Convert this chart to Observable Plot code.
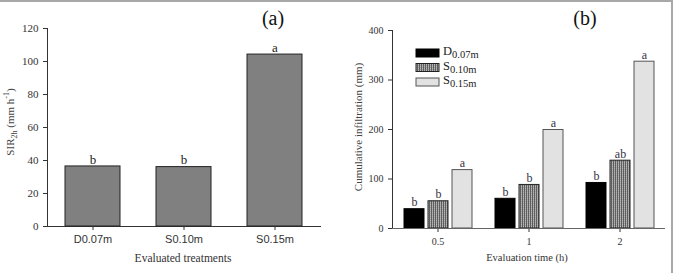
<!DOCTYPE html>
<html><head><meta charset="utf-8">
<script src="https://cdn.jsdelivr.net/npm/d3@7"></script>
<script src="https://cdn.jsdelivr.net/npm/@observablehq/plot@0.6"></script>
<style>
body{margin:0;background:#fff;}
#wrap{position:relative;width:674px;height:273px;overflow:hidden;background:#fff;}
#frame{position:absolute;left:0;top:0;width:673px;height:273px;border-top:2px solid #a8a8a8;border-right:2px solid #a8a8a8;box-sizing:border-box;pointer-events:none;}
#pa{position:absolute;left:0;top:0;}
#pb{position:absolute;left:337px;top:0;}
</style></head><body>
<div id="wrap"><div id="pa"></div><div id="pb"></div><div id="frame"></div></div>
<script>
// Panel (a)
const treatments = ["D0.07m", "S0.10m", "S0.15m"];
const sir2h = [36.4, 36.0, 104.2];
const sirLetters = ["b", "b", "a"];
// Panel (b)
const times = ["0.5", "1", "2"];
const seriesKeys = ["D0.07m", "S0.10m", "S0.15m"];
const seriesBase = ["D", "S", "S"];
const seriesSub = ["0.07m", "0.10m", "0.15m"];
const infD = [39, 60, 92];
const infS10 = [55, 88, 137];
const infS15 = [118, 199, 337];
const lettersD = ["b", "b", "b"];
const lettersS10 = ["b", "b", "ab"];
const lettersS15 = ["a", "a", "a"];
const yTicksA = [0, 20, 40, 60, 80, 100, 120];
const yTicksB = [0, 100, 200, 300, 400];

const serif = "'Liberation Serif', 'Times New Roman', serif";
const sans = "'Liberation Sans', Arial, sans-serif";

function fixFonts(svg, xSans) {
  d3.select(svg).selectAll("text").each(function () {
    let p = this.parentNode, isX = false;
    while (p && p !== svg) {
      const a = p.getAttribute && p.getAttribute("aria-label");
      if (a && a.indexOf("x-axis") === 0) isX = true;
      p = p.parentNode;
    }
    this.setAttribute("font-family", isX && xSans ? sans : serif);
    this.style.fontFamily = isX && xSans ? sans : serif;
  });
}

// ---------- Panel (a)
const dataA = treatments.map((t, i) => ({t, v: sir2h[i], s: sirLetters[i]}));
const pa = Plot.plot({
  width: 337, height: 273,
  marginLeft: 47, marginRight: 17, marginTop: 28, marginBottom: 47,
  style: {fontFamily: serif, fontSize: "11px", color: "#333", background: "transparent", overflow: "visible"},
  x: {domain: treatments, paddingInner: 0.4, paddingOuter: 0.2, label: null, tickSize: 4, line: true},
  y: {domain: [0, 120], ticks: yTicksA, label: null, tickSize: 4, line: true},
  marks: [
    Plot.barY(dataA, {x: "t", y: "v", fill: "#808080", stroke: "#222", strokeWidth: 1}),
    Plot.text(dataA, {x: "t", y: "v", text: "s", dy: -7, fontSize: 13, fill: "#222"})
  ]
});
document.getElementById("pa").appendChild(pa);
fixFonts(pa, true);
{
  const s = d3.select(pa);
  const yl = s.append("text").attr("transform", "translate(14,122) rotate(-90)").attr("text-anchor", "middle")
    .attr("font-family", serif).attr("font-size", 11).attr("fill", "#444");
  yl.append("tspan").text("SIR");
  yl.append("tspan").attr("font-size", 8).attr("dy", 3).text("2h");
  yl.append("tspan").attr("dy", -3).text(" (mm h");
  yl.append("tspan").attr("font-size", 8).attr("dy", -5).text("-1");
  yl.append("tspan").attr("dy", 5).text(")");
  s.append("text").attr("x", 183).attr("y", 262).attr("text-anchor", "middle")
    .attr("font-family", serif).attr("font-size", 11.5).attr("fill", "#333").text("Evaluated treatments");
  s.append("text").attr("x", 273).attr("y", 25).attr("text-anchor", "middle")
    .attr("font-family", serif).attr("font-size", 20).attr("fill", "#111").text("(a)");
}

// ---------- Panel (b)
const seriesVals = [infD, infS10, infS15];
const seriesLetters = [lettersD, lettersS10, lettersS15];
const rowsB = [];
times.forEach((tm, i) => seriesKeys.forEach((k, j) => rowsB.push({time: tm, series: k, value: seriesVals[j][i], sig: seriesLetters[j][i]})));
const fills = ["#000000", "url(#hatchB)", "#e2e2e2"];
const strokes = ["#000000", "#222222", "#555555"];

const pb = Plot.plot({
  width: 337, height: 273,
  marginLeft: 55, marginRight: 9, marginTop: 30, marginBottom: 45,
  style: {fontFamily: serif, fontSize: "10px", color: "#333", background: "transparent", overflow: "visible"},
  facet: {data: rowsB, x: "time"},
  fx: {domain: times, padding: 0, axis: "bottom", label: null, tickSize: 4, tickPadding: 5},
  x: {domain: seriesKeys, paddingInner: 0.18, paddingOuter: 0.46, axis: null},
  y: {domain: [0, 400], ticks: yTicksB, label: null, tickSize: 4, line: true},
  color: {domain: seriesKeys, range: fills},
  marks: [
    Plot.barY(rowsB, {x: "series", y: "value", fill: "series", stroke: (d) => strokes[seriesKeys.indexOf(d.series)], strokeWidth: 1}),
    Plot.text(rowsB, {x: "series", y: "value", text: "sig", dy: -7, fontSize: 12, fill: "#334"}),
    Plot.ruleY([0], {stroke: "#666"})
  ]
});
document.getElementById("pb").appendChild(pb);
fixFonts(pb, false);
{
  const s = d3.select(pb);
  const defs = s.insert("defs", ":first-child");
  const pat = defs.append("pattern").attr("id", "hatchB").attr("patternUnits", "userSpaceOnUse").attr("width", 2).attr("height", 2);
  pat.append("rect").attr("width", 2).attr("height", 2).attr("fill", "#b8b8b8");
  pat.append("rect").attr("width", 1).attr("height", 2).attr("fill", "#5e5e5e");
  pat.append("rect").attr("x", 1).attr("y", 1).attr("width", 1).attr("height", 1).attr("fill", "#a0a0a0");

  s.append("text").attr("transform", "translate(25,127) rotate(-90)").attr("text-anchor", "middle")
    .attr("font-family", serif).attr("font-size", 11).attr("fill", "#444").text("Cumulative infiltration (mm)");
  s.append("text").attr("x", 190).attr("y", 261).attr("text-anchor", "middle")
    .attr("font-family", serif).attr("font-size", 10.5).attr("fill", "#333").text("Evaluation time (h)");
  s.append("text").attr("x", 248).attr("y", 25).attr("text-anchor", "middle")
    .attr("font-family", serif).attr("font-size", 20).attr("fill", "#111").text("(b)");
  // legend
  const lg = s.append("g").attr("text-anchor", "start");
  seriesKeys.forEach((k, j) => {
    const cy = 53 + j * 14.5;
    lg.append("rect").attr("x", 79).attr("y", cy - 4).attr("width", 23).attr("height", 8)
      .attr("fill", fills[j]).attr("stroke", strokes[j]).attr("stroke-width", 1);
    const t = lg.append("text").attr("x", 106).attr("y", cy + 2).attr("text-anchor", "start")
      .attr("font-family", serif).attr("font-size", 12.5).attr("fill", "#222");
    t.append("tspan").text(seriesBase[j]);
    t.append("tspan").attr("font-size", 10.5).attr("dy", 3).text(seriesSub[j]);
  });
}
</script>
</body></html>
